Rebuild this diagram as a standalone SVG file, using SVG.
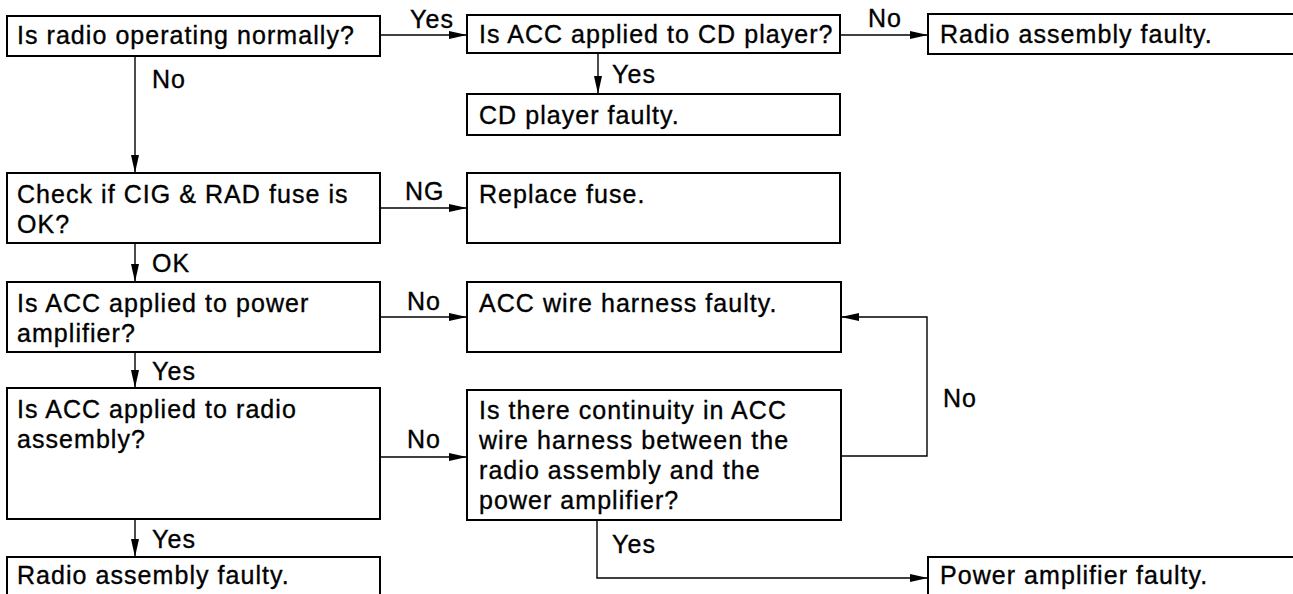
<svg xmlns="http://www.w3.org/2000/svg" width="1293" height="594" viewBox="0 0 1293 594">
<defs>
<style>
.box{fill:#fff;stroke:#000;stroke-width:2}
.t{font-family:"Liberation Sans",Arial,sans-serif;font-size:25px;letter-spacing:1.05px;fill:#000;stroke:#000;stroke-width:0.35}
.c{fill:none;stroke:#000;stroke-width:1.4}
</style>
<marker id="ah" markerUnits="userSpaceOnUse" markerWidth="19" markerHeight="9" refX="18" refY="4" orient="auto">
<path d="M0,0 L18,4 L0,8 z" fill="#000"/>
</marker>
</defs>
<rect width="1293" height="594" fill="#fff"/>
<g id="connectors">
<path class="c" d="M380,35 H467" marker-end="url(#ah)"/>
<path class="c" d="M840,35 H928" marker-end="url(#ah)"/>
<path class="c" d="M598,53 V94" marker-end="url(#ah)"/>
<path class="c" d="M135,56 V173" marker-end="url(#ah)"/>
<path class="c" d="M380,208 H467" marker-end="url(#ah)"/>
<path class="c" d="M135,243 V282" marker-end="url(#ah)"/>
<path class="c" d="M380,317 H467" marker-end="url(#ah)"/>
<path class="c" d="M135,352 V388" marker-end="url(#ah)"/>
<path class="c" d="M380,457 H467" marker-end="url(#ah)"/>
<path class="c" d="M841,456 H927 V317 H841" marker-end="url(#ah)"/>
<path class="c" d="M135,519 V557" marker-end="url(#ah)"/>
<path class="c" d="M597,520 V578 H928" marker-end="url(#ah)"/>
<text class="t" x="410" y="28">Yes</text>
<text class="t" x="868" y="27">No</text>
<text class="t" x="612" y="83">Yes</text>
<text class="t" x="152" y="88">No</text>
<text class="t" x="405" y="200">NG</text>
<text class="t" x="152" y="272">OK</text>
<text class="t" x="407" y="310">No</text>
<text class="t" x="152" y="380">Yes</text>
<text class="t" x="407" y="448">No</text>
<text class="t" x="943" y="407">No</text>
<text class="t" x="152" y="548">Yes</text>
<text class="t" x="612" y="553">Yes</text>
</g>
<g id="n1"><rect class="box" x="7" y="16" width="373" height="40"/><text class="t" x="17" y="44">Is radio operating normally?</text></g>
<g id="n2"><rect class="box" x="467" y="15" width="373" height="38"/><text class="t" x="479" y="43">Is ACC applied to CD player?</text></g>
<g id="n3"><rect class="box" x="928" y="14" width="380" height="40"/><text class="t" x="940" y="43">Radio assembly faulty.</text></g>
<g id="n4"><rect class="box" x="467" y="94" width="373" height="41"/><text class="t" x="479" y="124">CD player faulty.</text></g>
<g id="n5"><rect class="box" x="7" y="173" width="373" height="70"/><text class="t" x="17" y="203">Check if CIG &amp; RAD fuse is</text><text class="t" x="17" y="233">OK?</text></g>
<g id="n6"><rect class="box" x="467" y="173" width="373" height="70"/><text class="t" x="479" y="203">Replace fuse.</text></g>
<g id="n7"><rect class="box" x="7" y="282" width="373" height="70"/><text class="t" x="17" y="312">Is ACC applied to power</text><text class="t" x="17" y="342">amplifier?</text></g>
<g id="n8"><rect class="box" x="467" y="282" width="374" height="70"/><text class="t" x="479" y="312">ACC wire harness faulty.</text></g>
<g id="n9"><rect class="box" x="7" y="388" width="373" height="131"/><text class="t" x="17" y="418">Is ACC applied to radio</text><text class="t" x="17" y="448">assembly?</text></g>
<g id="n10"><rect class="box" x="467" y="390" width="374" height="130"/><text class="t" x="479" y="419">Is there continuity in ACC</text><text class="t" x="479" y="449">wire harness between the</text><text class="t" x="479" y="479">radio assembly and the</text><text class="t" x="479" y="509">power amplifier?</text></g>
<g id="n11"><rect class="box" x="7" y="557" width="373" height="50"/><text class="t" x="17" y="584">Radio assembly faulty.</text></g>
<g id="n12"><rect class="box" x="928" y="557" width="380" height="50"/><text class="t" x="940" y="584">Power amplifier faulty.</text></g>
</svg>
